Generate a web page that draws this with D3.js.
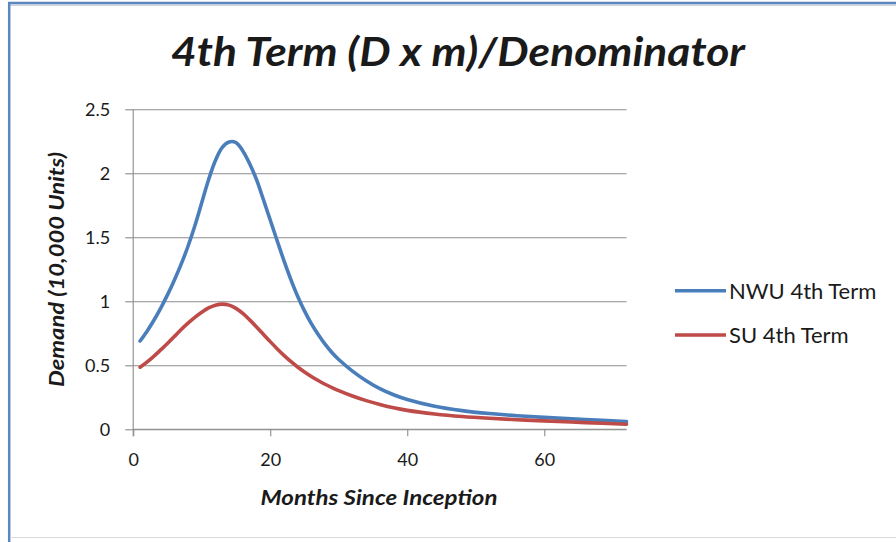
<!DOCTYPE html>
<html>
<head>
<meta charset="utf-8">
<script src="https://cdn.jsdelivr.net/npm/d3@7"></script>
<style>
  html, body { margin: 0; padding: 0; background: #ffffff; }
  svg { display: block; }
  text { font-family: Lato, "Open Sans", sans-serif; fill: #1a1a1a; }
</style>
</head>
<body>
<svg id="chart" width="896" height="542"></svg>
<script>
// Months since inception (monthly early on, then every few months)
const months = [1, 2, 3, 4, 5, 6, 7, 8, 9, 10, 11, 12, 13, 14, 15, 16, 17, 18, 19, 20,
  21, 22, 23, 24, 25, 26, 27, 28, 29, 30, 32, 34, 36, 38, 40, 44, 48, 52, 56, 60, 66, 72];

// Demand (10,000 units) — NWU 4th term
const nwuValues = [0.69, 0.765, 0.85, 0.945, 1.05, 1.165, 1.29, 1.43, 1.59, 1.77,
  1.95, 2.10, 2.203, 2.245, 2.24, 2.175, 2.075, 1.95, 1.795, 1.635,
  1.475, 1.318, 1.172, 1.04, 0.925, 0.825, 0.74, 0.665, 0.60, 0.545,
  0.455, 0.38, 0.318, 0.27, 0.233, 0.18, 0.146, 0.123, 0.106, 0.093, 0.076, 0.06];

// Demand (10,000 units) — SU 4th term
const suValues = [0.485, 0.525, 0.57, 0.62, 0.67, 0.725, 0.78, 0.83, 0.875, 0.915,
  0.948, 0.97, 0.978, 0.97, 0.945, 0.905, 0.855, 0.80, 0.742, 0.685,
  0.63, 0.578, 0.53, 0.487, 0.448, 0.413, 0.381, 0.352, 0.326, 0.302,
  0.26, 0.224, 0.194, 0.168, 0.148, 0.12, 0.10, 0.086, 0.075, 0.066, 0.052, 0.04];

const seriesNames = ["NWU 4th Term", "SU 4th Term"];
const seriesColors = ["#4a7ebb", "#be4b48"];

const xTicks = [0, 20, 40, 60];
const yTicks = [0, 0.5, 1, 1.5, 2, 2.5];
const yTickLabels = ["0", "0.5", "1", "1.5", "2", "2.5"];

const titleText = "4th Term (D x m)/Denominator";
const xTitle = "Months Since Inception";
const yTitle = "Demand (10,000 Units)";

const svg = d3.select("#chart");

// Frame of the chart object: blue top and left edges, light bottom edge
svg.append("line").attr("x1", 8).attr("x2", 896).attr("y1", 3).attr("y2", 3)
  .attr("stroke", "#5b87c0").attr("stroke-width", 2.5);
svg.append("line").attr("x1", 8).attr("x2", 896).attr("y1", 5.2).attr("y2", 5.2)
  .attr("stroke", "#b9c3cf").attr("stroke-width", 1.2);
svg.append("line").attr("x1", 9.2).attr("x2", 9.2).attr("y1", 2).attr("y2", 542)
  .attr("stroke", "#5b87c0").attr("stroke-width", 2.5);
svg.append("line").attr("x1", 10).attr("x2", 896).attr("y1", 537.5).attr("y2", 537.5)
  .attr("stroke", "#d9d9d9").attr("stroke-width", 1.2);

// Plot area
const plot = { left: 133.2, right: 626.5, top: 109.3, bottom: 429.3 };
const x = d3.scaleLinear().domain([0, 72]).range([plot.left, plot.right]);
const y = d3.scaleLinear().domain([0, 2.5]).range([plot.bottom, plot.top]);

// Horizontal gridlines (with the left tick stubs)
svg.append("g")
  .attr("transform", `translate(${plot.left},0)`)
  .call(d3.axisLeft(y).tickValues(yTicks).tickSize(-(plot.right - plot.left)).tickFormat(""))
  .call(g => g.select(".domain").remove())
  .call(g => g.selectAll(".tick line").attr("stroke", "#8c8c8c").attr("stroke-width", 1.1));

// Y axis
const yAxis = svg.append("g")
  .attr("transform", `translate(${plot.left},0)`)
  .call(d3.axisLeft(y).tickValues(yTicks).tickSize(8).tickPadding(15)
    .tickFormat((d, i) => yTickLabels[i]));
yAxis.select(".domain").remove();
yAxis.selectAll(".tick line").attr("stroke", "#8c8c8c").attr("stroke-width", 1.1);
yAxis.selectAll(".tick text").attr("font-size", 18).attr("fill", "#1a1a1a")
  .style("font-family", "Lato, sans-serif");
svg.append("line").attr("x1", plot.left).attr("x2", plot.left)
  .attr("y1", plot.top).attr("y2", plot.bottom + 7)
  .attr("stroke", "#8c8c8c").attr("stroke-width", 1.1);

// X axis
const xAxis = svg.append("g")
  .attr("transform", `translate(0,${plot.bottom})`)
  .call(d3.axisBottom(x).tickValues(xTicks).tickSize(7).tickPadding(17));
xAxis.select(".domain").attr("stroke", "#8c8c8c").attr("stroke-width", 1.1)
  .attr("d", `M${plot.left},0H${plot.right}`);
xAxis.selectAll(".tick line").attr("stroke", "#8c8c8c").attr("stroke-width", 1.1);
xAxis.selectAll(".tick text").attr("font-size", 18).attr("fill", "#1a1a1a")
  .style("font-family", "Lato, sans-serif");

// Series lines
const line = d3.line()
  .x((d, i) => x(months[i]))
  .y(d => y(d))
  .curve(d3.curveCatmullRom.alpha(0.5));

[nwuValues, suValues].forEach((vals, k) => {
  svg.append("path")
    .datum(vals)
    .attr("d", line)
    .attr("fill", "none")
    .attr("stroke", seriesColors[k])
    .attr("stroke-width", 3.6)
    .attr("stroke-linejoin", "round")
    .attr("stroke-linecap", "round");
});

// Title
svg.append("text")
  .attr("x", 458).attr("y", 66)
  .attr("text-anchor", "middle")
  .attr("font-size", 40).attr("font-weight", "bold").attr("font-style", "italic")
  .attr("textLength", 574).attr("lengthAdjust", "spacingAndGlyphs")
  .text(titleText);

// Axis titles
svg.append("text")
  .attr("x", 379).attr("y", 505)
  .attr("text-anchor", "middle")
  .attr("font-size", 20).attr("font-weight", "bold").attr("font-style", "italic")
  .attr("textLength", 237).attr("lengthAdjust", "spacingAndGlyphs")
  .text(xTitle);

svg.append("text")
  .attr("transform", "translate(64,269.5) rotate(-90)")
  .attr("text-anchor", "middle")
  .attr("font-size", 20).attr("font-weight", "bold").attr("font-style", "italic")
  .attr("textLength", 235).attr("lengthAdjust", "spacingAndGlyphs")
  .text(yTitle);

// Legend
const legend = svg.append("g");
const legendY = [290.7, 335];
seriesNames.forEach((name, k) => {
  legend.append("line")
    .attr("x1", 675).attr("x2", 726)
    .attr("y1", legendY[k]).attr("y2", legendY[k])
    .attr("stroke", seriesColors[k]).attr("stroke-width", 3.6);
  legend.append("text")
    .attr("x", 729).attr("y", legendY[k])
    .attr("dy", "0.36em")
    .attr("font-size", 22)
    .text(name);
});
</script>
</body>
</html>
